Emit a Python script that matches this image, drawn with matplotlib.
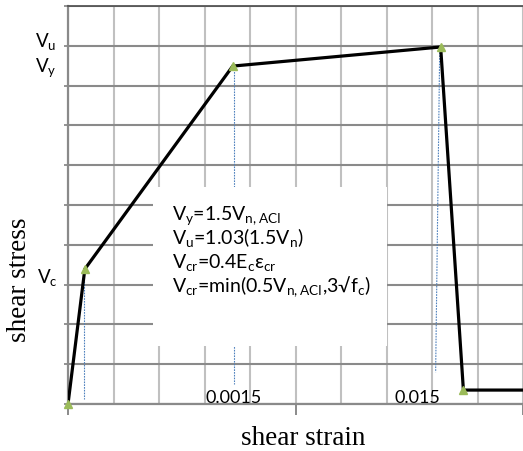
import matplotlib
matplotlib.use("Agg")
import matplotlib.pyplot as plt
from matplotlib.patches import Rectangle

# Schematic shear stress / shear strain backbone (grid units)
strain = [0.0, 0.37, 3.62, 8.19, 8.69, 10.0]
stress = [0.0, 3.39, 8.49, 8.97, 0.35, 0.35]
marker_strain = [0.0, 0.37, 3.62, 8.19, 8.69]
marker_stress = [0.0, 3.39, 8.49, 8.97, 0.35]

# dotted drop lines: (x_top, y_top, x_bottom, y_bottom)
drop_lines = [
    (0.35, 3.09, 0.35, 0.13),
    (3.65, 8.49, 3.65, 0.50),
    (8.17, 8.97, 8.08, 0.80),
]

strain_labels = ["0.0015", "0.015"]
strain_label_x = [3.03, 7.18]

equations = [
    r"V$_{y}$=1.5V$_{n,ACI}$",
    r"V$_{u}$=1.03(1.5V$_{n}$)",
    r"V$_{cr}$=0.4E$_{c}$ε$_{cr}$",
    r"V$_{cr}$=min(0.5V$_{n,ACI}$,3√f$_{c}$)",
]

plt.rcParams["font.family"] = ["Lato", "DejaVu Sans"]
plt.rcParams["mathtext.default"] = "regular"

W, H = 523, 452
fig = plt.figure(figsize=(W / 100, H / 100), dpi=100)
ax = fig.add_axes([68 / W, 47 / H, 455 / W, 398 / H])
ax.set_xlim(0, 455 / 45.8)
ax.set_ylim(0, 10)


def fx(px):
    return px / W


def fy(py):
    return 1 - py / H


# grid
ax.set_axisbelow(True)
ax.set_xticks([0, 5, 10])
ax.set_xticks([1, 2, 3, 4, 6, 7, 8, 9], minor=True)
ax.set_yticks(range(0, 11))
ax.set_xticklabels([])
ax.set_yticklabels([])
ax.grid(True, axis="x", which="both", color="#c0c0c0", lw=1.5)
ax.grid(True, axis="y", which="major", color="#8a8a8a", lw=1.5)
ax.tick_params(axis="x", which="major", length=8, width=1.4, color="#8a8a8a", direction="out")
ax.tick_params(axis="x", which="minor", length=0)
ax.tick_params(axis="y", length=3, width=1.3, color="#8a8a8a", direction="out")

for side in ["left", "bottom"]:
    ax.spines[side].set_color("#8a8a8a")
    ax.spines[side].set_linewidth(1.6)
ax.spines["right"].set_visible(False)
ax.spines["top"].set_color("#555555")
ax.spines["top"].set_linewidth(1.3)
ax.spines["top"].set_linestyle((0, (2, 1)))

# dotted drop lines
for x0, y0, x1, y1 in drop_lines:
    ax.plot([x0, x1], [y0, y1], color="#4f81bd", lw=0.8, ls=(0, (1.5, 1)), zorder=1.5)

# white box behind the equations
ax.add_patch(Rectangle((1.86, 1.46), 7.0 - 1.86, 5.45 - 1.46,
                       facecolor="white", edgecolor="none", zorder=2))

ax.plot(strain, stress, color="black", lw=2.3, zorder=4, solid_joinstyle="miter")
ax.plot(marker_strain, marker_stress, ls="none", marker="^", ms=6,
        color="#9bbb59", zorder=5, clip_on=False)

for lab, x in zip(strain_labels, strain_label_x):
    ax.text(x, 0.05, lab, fontsize=13, ha="left", va="baseline", zorder=3)

for i, eq in enumerate(equations):
    fig.text(fx(172), fy(220 + 24.2 * i), eq, fontsize=14, ha="left", va="baseline")

fig.text(fx(35), fy(47), r"V$_{u}$", fontsize=13.5, ha="left", va="baseline")
fig.text(fx(35), fy(72), r"V$_{y}$", fontsize=13.5, ha="left", va="baseline")
fig.text(fx(37), fy(283), r"V$_{c}$", fontsize=13.5, ha="left", va="baseline")

fig.text(fx(303), fy(445), "shear strain", family="Liberation Serif",
         fontsize=19.5, ha="center", va="baseline")
fig.text(fx(19), fy(280), "shear stress", family="Liberation Serif",
         fontsize=19.5, ha="center", va="center", rotation=90)

fig.savefig("out.png", dpi=100)
